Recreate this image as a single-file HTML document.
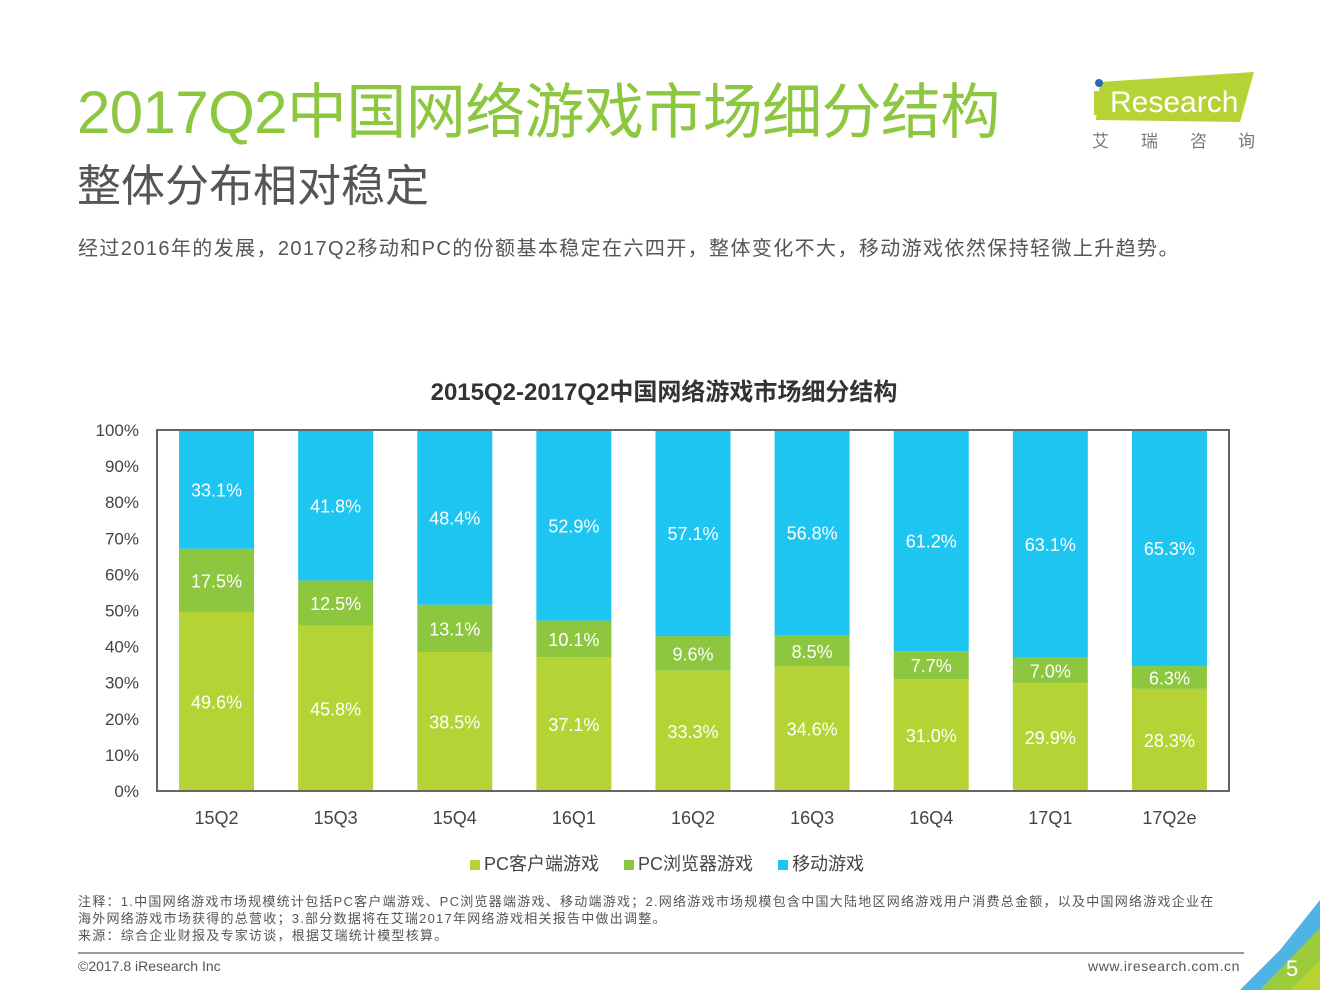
<!DOCTYPE html>
<html><head><meta charset="utf-8">
<style>
body{margin:0;width:1320px;height:990px;background:#fff;position:relative;overflow:hidden;font-family:"Liberation Sans","Noto Sans CJK SC",sans-serif;}
.a{position:absolute;white-space:nowrap;}
</style></head><body>
<div class="a" style="left:77px;top:64px;font-size:60px;color:#8dc63f;letter-spacing:-0.6px;">2017Q2中国网络游戏市场细分结构</div>
<div class="a" style="left:77px;top:150px;font-size:44px;color:#555;">整体分布相对稳定</div>
<div class="a" style="left:78px;top:232px;font-size:20px;color:#555;letter-spacing:1.4px;">经过2016年的发展，2017Q2移动和PC的份额基本稳定在六四开，整体变化不大，移动游戏依然保持轻微上升趋势。</div>
<svg class="a" style="left:1088px;top:70px" width="180" height="85">
<polygon points="12,12 166,2 152,52 8,50" fill="#b5d334"/>
<circle cx="11" cy="13" r="4" fill="#2a6ab5"/>
<rect x="6" y="21" width="6" height="24" fill="#b5d334"/>
<text x="22" y="42" font-size="30" fill="#fff" font-family="Liberation Sans">Research</text>
<text x="4" y="77" font-size="17" fill="#777" font-family="Noto Sans CJK SC">艾</text>
<text x="53" y="77" font-size="17" fill="#777" font-family="Noto Sans CJK SC">瑞</text>
<text x="102" y="77" font-size="17" fill="#777" font-family="Noto Sans CJK SC">咨</text>
<text x="150" y="77" font-size="17" fill="#777" font-family="Noto Sans CJK SC">询</text>
</svg>
<div class="a" style="left:0;width:1328px;text-align:center;top:372px;font-size:24px;font-weight:bold;color:#333;">2015Q2-2017Q2中国网络游戏市场细分结构</div>
<svg id="chart" class="a" style="left:0;top:0" width="1320" height="990"></svg>
<div class="a" style="left:470px;top:850px;font-size:18px;color:#444;">
<span><span style="display:inline-block;width:10px;height:10px;background:#b5d334;margin-right:4px"></span>PC客户端游戏</span>
<span style="margin-left:20px"><span style="display:inline-block;width:10px;height:10px;background:#8dc63f;margin-right:4px"></span>PC浏览器游戏</span>
<span style="margin-left:20px"><span style="display:inline-block;width:10px;height:10px;background:#1ec5f0;margin-right:4px"></span>移动游戏</span>
</div>
<div class="a" style="left:78px;top:893px;font-size:13px;color:#555;line-height:17px;letter-spacing:1.25px;">注释：1.中国网络游戏市场规模统计包括PC客户端游戏、PC浏览器端游戏、移动端游戏；2.网络游戏市场规模包含中国大陆地区网络游戏用户消费总金额，以及中国网络游戏企业在<br>海外网络游戏市场获得的总营收；3.部分数据将在艾瑞2017年网络游戏相关报告中做出调整。<br>来源：综合企业财报及专家访谈，根据艾瑞统计模型核算。</div>
<div class="a" style="left:78px;top:952px;width:1166px;height:2px;background:#999"></div>
<div class="a" style="left:78px;top:958px;font-size:14px;color:#555;">©2017.8 iResearch Inc</div>
<div class="a" style="left:1088px;top:958px;font-size:14px;color:#555;letter-spacing:0.6px;">www.iresearch.com.cn</div>
<svg class="a" style="left:1240px;top:900px" width="80" height="90">
<polygon points="80,0 80,40 30,90 0,90 40,50" fill="#4fb3e3"/>
<polygon points="80,28 80,90 20,90" fill="#9ccb3b"/>
<polygon points="50,90 80,60 80,90" fill="#b5d334"/>
<text x="46" y="76" font-size="22" fill="#fff">5</text>
</svg>
<script>
const categories=["15Q2","15Q3","15Q4","16Q1","16Q2","16Q3","16Q4","17Q1","17Q2e"];
const pcClient=[49.6,45.8,38.5,37.1,33.3,34.6,31.0,29.9,28.3];
const pcBrowser=[17.5,12.5,13.1,10.1,9.6,8.5,7.7,7.0,6.3];
const mobile=[33.1,41.8,48.4,52.9,57.1,56.8,61.2,63.1,65.3];
const yTicks=[0,10,20,30,40,50,60,70,80,90,100];
const NS="http://www.w3.org/2000/svg",svg=document.getElementById('chart');
const L=157,R=1229,T=430,B=791,step=(R-L)/categories.length,bw=75;
const y=v=>B-(B-T)*Math.min(v,100)/100;
const x=i=>L+step*(i+0.5);
function el(t,a){const e=document.createElementNS(NS,t);for(const k in a)e.setAttribute(k,a[k]);svg.appendChild(e);return e;}
yTicks.forEach(t=>{const e=el('text',{x:139,y:y(t)+6,'text-anchor':'end','font-size':17,fill:'#444'});e.textContent=t+'%';

});
const cols=["#b5d334","#8dc63f","#1ec5f0"];
categories.forEach((c,i)=>{
 const vals=[pcClient[i],pcBrowser[i],mobile[i]];let base=0;
 vals.forEach((v,s)=>{const top=s==2?100:base+v;
  const r=el('rect',{x:x(i)-bw/2,y:y(top),width:bw,height:y(base)-y(top),fill:cols[s]});
  
  
  const t=el('text',{x:x(i),y:(y(top)+y(base))/2+7,'text-anchor':'middle','font-size':18,fill:'#fff'});t.textContent=v.toFixed(1)+'%';
  
  
  base+=v;});
 const l=el('text',{x:x(i),y:824,'text-anchor':'middle','font-size':18,fill:'#444'});l.textContent=c;
 
 
});
const f=el('path',{d:`M${L},${B}V${T}H${R}V${B}Z`,fill:'none',stroke:'#666','stroke-width':2});


</script>
</body></html>
